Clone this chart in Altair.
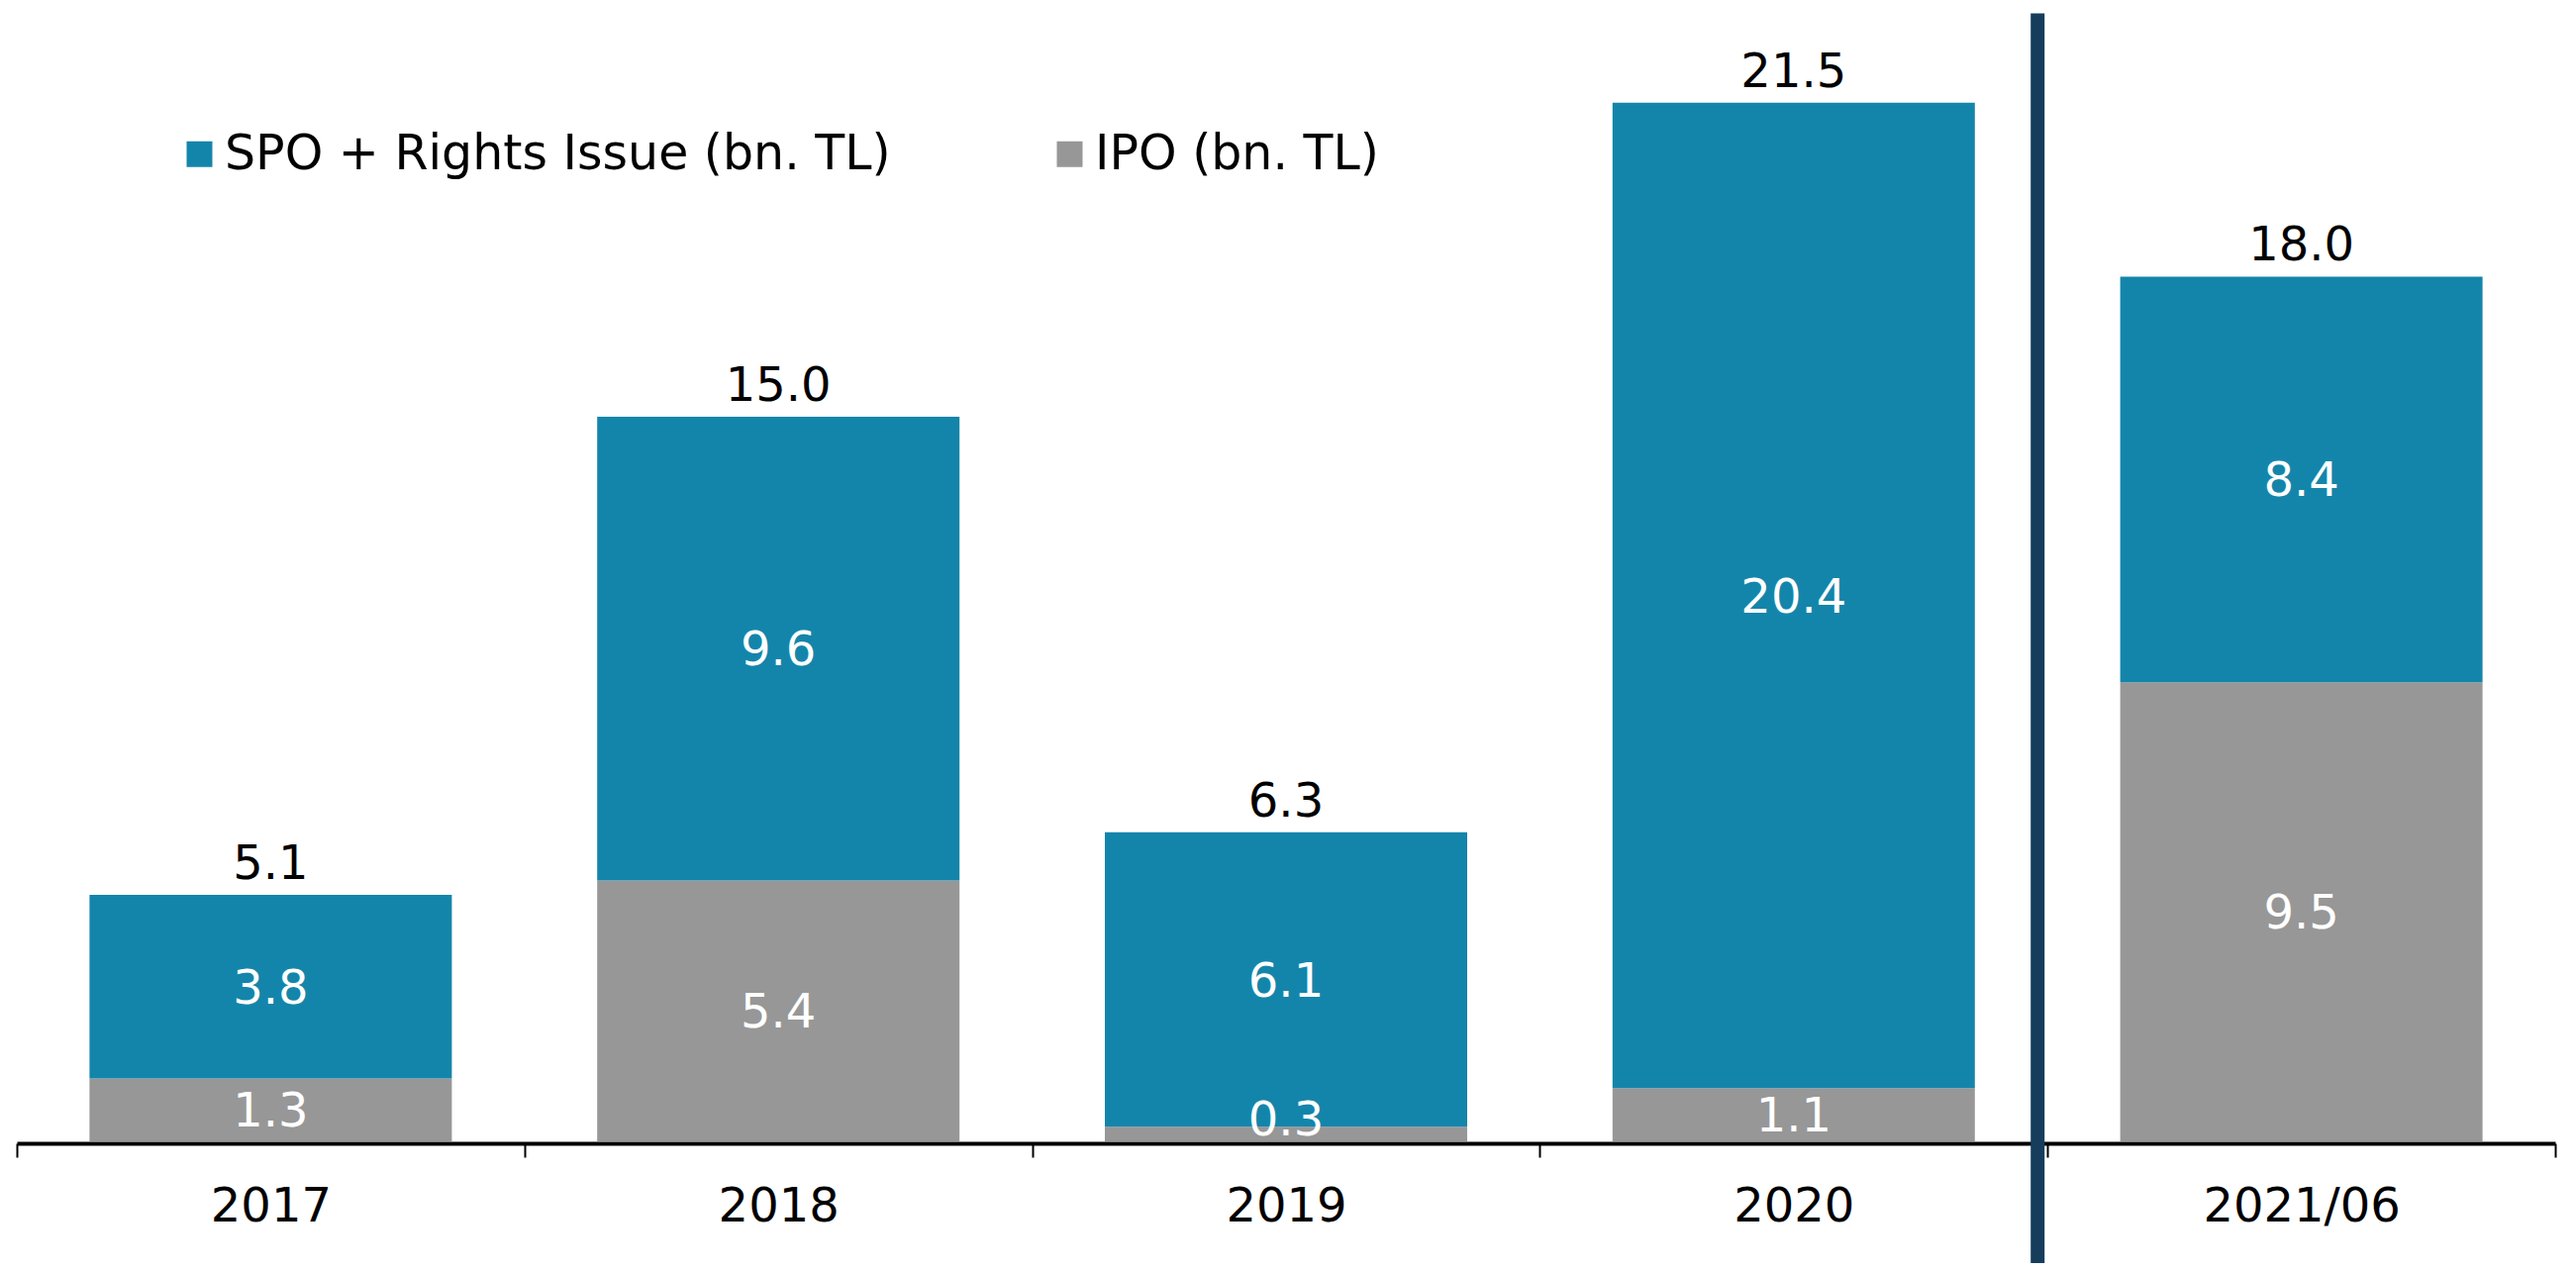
import altair as alt
import pandas as pd

categories = ["2017", "2018", "2019", "2020", "2021/06"]
ipo = [1.3, 5.4, 0.3, 1.1, 9.5]
spo = [3.8, 9.6, 6.1, 20.4, 8.4]
totals = [5.1, 15.0, 6.3, 21.5, 18.0]
series = ["SPO + Rights Issue (bn. TL)", "IPO (bn. TL)"]
colors = ["#1485AA", "#979797"]
separator_after = "2020"

FONT = "DejaVu Sans"

rows = []
for c, i, s in zip(categories, ipo, spo):
    rows.append({"cat": c, "series": series[1], "value": i, "y0": 0.0, "y1": i})
    rows.append({"cat": c, "series": series[0], "value": s, "y0": i, "y1": i + s})
seg = pd.DataFrame(rows)
seg["mid"] = (seg["y0"] + seg["y1"]) / 2
seg["label"] = seg["value"].map(lambda v: f"{v:.1f}")

tot = pd.DataFrame({
    "cat": categories,
    "top": [i + s for i, s in zip(ipo, spo)],
    "label": [f"{t:.1f}" for t in totals],
})

sep = pd.DataFrame({"cat": [separator_after]})

x_scale = alt.Scale(domain=categories, paddingInner=0, paddingOuter=0)
y_scale = alt.Scale(domain=[0, 23.4], nice=False, zero=True)

x_axis = alt.Axis(
    title=None, labelAngle=0, labelFont=FONT, labelFontSize=48, labelColor="black",
    labelLimit=2000,
    domainColor="black", domainWidth=4, tickColor="black", tickWidth=2, tickSize=14,
    tickBand="extent", labelPadding=26, offset=2, grid=False,
)

bars = alt.Chart(seg).mark_bar(stroke=None, width=alt.RelativeBandSize(0.7137)).encode(
    x=alt.X("cat:N", scale=x_scale, axis=x_axis, sort=categories),
    y=alt.Y("y1:Q", scale=y_scale, axis=None),
    y2="y0:Q",
    color=alt.Color(
        "series:N",
        scale=alt.Scale(domain=series, range=colors),
        legend=alt.Legend(
            title=None, orient="none", legendX=160, legendY=120, direction="horizontal",
            symbolType="square", symbolSize=676, symbolStrokeWidth=0,
            labelFont=FONT, labelFontSize=49, labelColor="black", labelLimit=2000,
            labelOffset=1, columnPadding=156,
        ),
    ),
)

seg_text = alt.Chart(seg).transform_calculate(
    ly="max(datum.mid, 0.47)"
).mark_text(
    color="white", font=FONT, fontSize=48, baseline="middle", dy=3
).encode(
    x=alt.X("cat:N", sort=categories),
    y=alt.Y("ly:Q"),
    text="label:N",
)

tot_text = alt.Chart(tot).mark_text(
    color="black", font=FONT, fontSize=48, baseline="alphabetic", dy=-16
).encode(
    x=alt.X("cat:N", sort=categories),
    y=alt.Y("top:Q"),
    text="label:N",
)

rule = alt.Chart(sep).mark_rule(color="#173D5D", strokeWidth=14, xOffset=-10).encode(
    x=alt.X("cat:N", sort=categories, bandPosition=1),
    y=alt.datum(23.35),
    y2=alt.datum(-2.6),
)

chart = alt.layer(bars, seg_text, tot_text, rule).properties(
    width=2564,
    height=1142,
    padding={"left": 9, "top": 3, "right": 13, "bottom": 123},
    autosize=alt.AutoSizeParams(type="none"),
).configure_view(stroke=None)

chart.save("out.html", embed_options={"renderer": "svg", "actions": False})
